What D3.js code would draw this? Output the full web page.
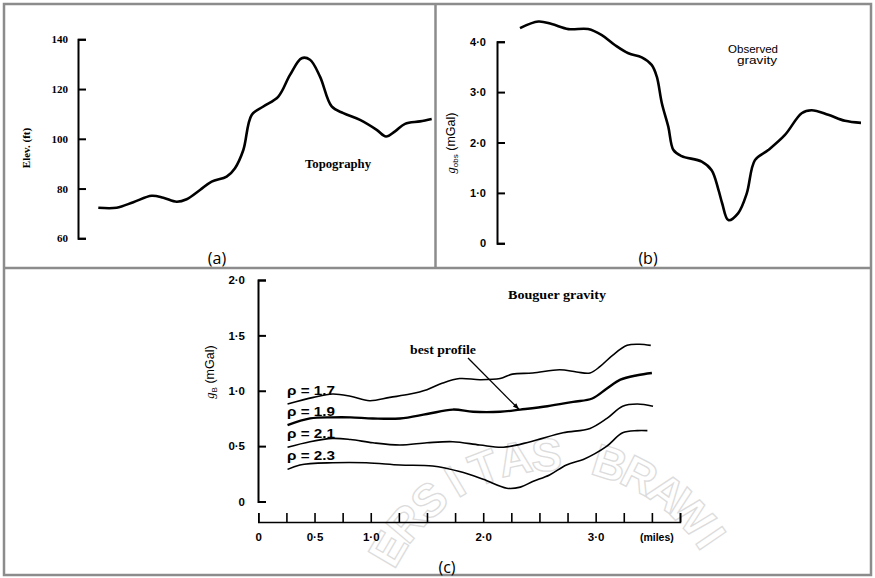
<!DOCTYPE html>
<html><head><meta charset="utf-8">
<script src="https://cdn.jsdelivr.net/npm/d3@7/dist/d3.min.js"></script>
<style>body{margin:0;background:#fff} svg{display:block}</style>
</head><body>
<svg id="chart" width="875" height="578"></svg>
<script>
// ---------- DATA ----------
// (a) Topography: position along profile (% of length) and elevation (ft)
const topoDist = [0,5.5,10.5,16,19.5,23.5,26.5,30.5,34,38.5,41,43.5,46,49.5,54,57.5,61,63.5,66.5,70,73.5,78.5,83.5,86.3,89,92,96.5,100];
const topoElev = [72.3,72.3,74.5,77.1,76.3,74.7,75.7,79.4,82.8,84.8,88.2,95.5,109.6,113,117,125.7,132.4,131.8,125,113,110.3,107.6,103.6,100.9,103,106,107,108];
// (b) Observed gravity: position (% of length) and g_obs (mGal)
const gravDist = [0,5.4,9.3,14.2,20,24,27.9,31.8,35.7,38.6,40.1,41.6,43.5,45,47.4,53.3,56.2,58.2,59.3,61.1,64,66.5,68.9,72.8,77.7,82.6,85.5,90.4,95.3,100];
const gravObs  = [4.27,4.4,4.35,4.25,4.25,4.13,3.93,3.77,3.69,3.54,3.31,2.78,2.31,1.85,1.73,1.62,1.45,1.06,0.79,0.46,0.6,0.99,1.65,1.85,2.15,2.58,2.64,2.55,2.43,2.39];
// (c) Bouguer gravity (mGal) vs distance (miles) for four densities
const miles17 = [0.26,0.49,0.66,0.82,0.99,1.17,1.35,1.5,1.64,1.79,1.97,2.15,2.26,2.44,2.68,2.83,2.95,3.04,3.15,3.28,3.39,3.49];
const bouguer17 = [0.88,0.94,0.97,0.95,0.91,0.94,0.97,1.01,1.07,1.11,1.1,1.11,1.15,1.16,1.19,1.17,1.16,1.22,1.32,1.41,1.42,1.41];
const miles19 = [0.26,0.46,0.66,0.82,1.02,1.26,1.5,1.73,1.91,2.15,2.33,2.57,2.8,2.97,3.1,3.22,3.37,3.5];
const bouguer19 = [0.69,0.75,0.76,0.76,0.75,0.75,0.79,0.83,0.81,0.81,0.83,0.86,0.9,0.93,1.02,1.1,1.14,1.16];
const miles21 = [0.26,0.46,0.66,0.82,1.02,1.26,1.5,1.73,1.97,2.18,2.42,2.71,2.95,3.1,3.24,3.37,3.51];
const bouguer21 = [0.49,0.54,0.57,0.56,0.53,0.51,0.53,0.54,0.51,0.49,0.54,0.62,0.66,0.75,0.86,0.88,0.86];
const miles23 = [0.26,0.37,0.66,0.96,1.26,1.55,1.79,2,2.21,2.33,2.44,2.59,2.74,2.89,2.99,3.1,3.24,3.37,3.46];
const bouguer23 = [0.29,0.33,0.35,0.35,0.33,0.32,0.27,0.2,0.12,0.13,0.18,0.24,0.33,0.38,0.43,0.5,0.62,0.64,0.64];
const densityLabels = ["ρ = 1.7","ρ = 1.9","ρ = 2.1","ρ = 2.3"];
// ticks
const elevTicks = [60,80,100,120,140];
const gobsTicks = [0,1,2,3,4];
const gbTicks = [0,0.5,1,1.5,2];
const mileTicks = [0,0.25,0.5,0.75,1,1.25,1.5,1.75,2,2.25,2.5,2.75,3,3.25,3.5,3.75];
const mileTickLabels = ["0","","0·5","","1·0","","","","2·0","","","","3·0","","",""];
const panelLabels = ["(a)","(b)","(c)"];
const watermarkText = "UNIVERSITAS BRAWIJAYA";

// ---------- DRAW ----------
const svg = d3.select("#chart");
const serif = "'Liberation Serif', 'DejaVu Serif', serif";
const sans = "'Liberation Sans', 'DejaVu Sans', sans-serif";
const dotFmt = d => d === 0 ? "0" : d.toFixed(1).replace(".", "·");

// watermark (faint, letters along an arc)
const wm = svg.append("g");
const wcx = 553, wcy = 646, wR = 192, wStep = 9.6;
watermarkText.split("").forEach((ch,i)=>{
  const th = (i - 10.2) * wStep;
  const rad = th * Math.PI / 180;
  const x = wcx + wR * Math.sin(rad), y = wcy - wR * Math.cos(rad);
  if (y > 556 || ch === " ") return;
  wm.append("text").attr("transform",`translate(${x.toFixed(1)},${y.toFixed(1)}) rotate(${th})`)
    .attr("text-anchor","middle").attr("dy","0.36em")
    .attr("font-family",sans).attr("font-weight","bold").attr("font-size",46)
    .attr("fill","none").attr("stroke","#dcdcdc").attr("stroke-width",1.3).text(ch);
});

// frame
const frameCol = "#8c8c8c";
svg.append("rect").attr("x",4).attr("y",4).attr("width",867).attr("height",571)
  .attr("fill","none").attr("stroke",frameCol).attr("stroke-width",2.5);
svg.append("line").attr("x1",435.5).attr("x2",435.5).attr("y1",4).attr("y2",268)
  .attr("stroke",frameCol).attr("stroke-width",2.5);
svg.append("line").attr("x1",4).attr("x2",871).attr("y1",268).attr("y2",268)
  .attr("stroke",frameCol).attr("stroke-width",2.5);

function styleAxis(g, fam, size, weight, w) {
  g.select(".domain").attr("stroke","#000").attr("stroke-width",w);
  g.selectAll(".tick line").attr("stroke","#000").attr("stroke-width",w);
  g.selectAll(".tick text").attr("font-family",fam).attr("font-size",size)
    .attr("font-weight",weight).attr("fill","#000");
}
const smooth = d3.curveCatmullRom.alpha(0.5);

// ----- (a) -----
const xA = d3.scaleLinear().domain([0,100]).range([98.3,431.7]);
const yA = d3.scaleLinear().domain([60,140]).range([238.3,39.3]);
const gA = svg.append("g").attr("transform","translate(78,0)")
  .call(d3.axisLeft(yA).tickValues(elevTicks).tickSize(-8).tickSizeOuter(-8).tickPadding(10).tickFormat(d3.format("d")));
styleAxis(gA, serif, 11, "bold", 2);
svg.append("path").datum(topoDist.map((d,i)=>[d,topoElev[i]]))
  .attr("d", d3.line().x(d=>xA(d[0])).y(d=>yA(d[1])).curve(smooth))
  .attr("fill","none").attr("stroke","#000").attr("stroke-width",2.6).attr("stroke-linejoin","round");
svg.append("text").attr("transform","translate(30,148) rotate(-90)").attr("text-anchor","middle")
  .attr("font-family",serif).attr("font-size",11).attr("font-weight","bold").text("Elev. (ft)");
svg.append("text").attr("x",305).attr("y",168).attr("font-family",serif).attr("font-size",12)
  .attr("font-weight","bold").attr("textLength",66).attr("lengthAdjust","spacingAndGlyphs").text("Topography");

// ----- (b) -----
const xB = d3.scaleLinear().domain([0,100]).range([520,861]);
const yB = d3.scaleLinear().domain([0,4]).range([243.3,41.7]);
const gB = svg.append("g").attr("transform","translate(497,0)")
  .call(d3.axisLeft(yB).tickValues(gobsTicks).tickSize(-8).tickSizeOuter(-8).tickPadding(11).tickFormat(dotFmt));
styleAxis(gB, sans, 11, "bold", 2);
svg.append("path").datum(gravDist.map((d,i)=>[d,gravObs[i]]))
  .attr("d", d3.line().x(d=>xB(d[0])).y(d=>yB(d[1])).curve(smooth))
  .attr("fill","none").attr("stroke","#000").attr("stroke-width",2.6).attr("stroke-linejoin","round");
const tB = svg.append("text").attr("transform","translate(455,143) rotate(-90)").attr("text-anchor","middle")
  .attr("font-family",sans).attr("font-size",12.5);
tB.append("tspan").attr("font-style","italic").attr("font-family",serif).text("g");
tB.append("tspan").attr("font-size",8).attr("dy",3).text("obs");
tB.append("tspan").attr("dy",-3).text("  (mGal)");
svg.append("text").attr("x",753).attr("y",53).attr("text-anchor","middle").attr("font-family",sans)
  .attr("font-size",11).attr("textLength",50).attr("lengthAdjust","spacingAndGlyphs").text("Observed");
svg.append("text").attr("x",757).attr("y",64).attr("text-anchor","middle").attr("font-family",sans)
  .attr("font-size",11).attr("textLength",40).attr("lengthAdjust","spacingAndGlyphs").text("gravity");

// ----- (c) -----
const xC = d3.scaleLinear().domain([0,3.75]).range([258.3,680]);
const yC = d3.scaleLinear().domain([0,2]).range([501.5,280]);
const gCy = svg.append("g").attr("transform","translate(258,0)")
  .call(d3.axisLeft(yC).tickValues(gbTicks).tickSize(-8).tickSizeOuter(-8).tickPadding(13).tickFormat(dotFmt));
styleAxis(gCy, sans, 11.5, "bold", 2);
const gCx = svg.append("g").attr("transform","translate(0,522)")
  .call(d3.axisBottom(xC).tickValues(mileTicks).tickSize(-9).tickSizeOuter(-9).tickPadding(11)
    .tickFormat((d,i)=>mileTickLabels[i]));
styleAxis(gCx, sans, 11.5, "bold", 1.6);
svg.append("text").attr("x",xC(3.5)+5).attr("y",541).attr("text-anchor","middle").attr("font-family",sans)
  .attr("font-size",10.5).attr("font-weight","bold").text("(miles)");

const series = [[miles17,bouguer17,1.6],[miles19,bouguer19,2.4],[miles21,bouguer21,1.6],[miles23,bouguer23,1.6]];
const lineC = d3.line().x(d=>xC(d[0])).y(d=>yC(d[1])).curve(smooth);
series.forEach((s,k)=>{
  const pts = s[0].map((m,i)=>[m,s[1][i]]);
  svg.append("path").datum(pts).attr("d",lineC).attr("fill","none").attr("stroke","#000")
    .attr("stroke-width",s[2]).attr("stroke-linejoin","round");
  svg.append("text").attr("x",xC(s[0][0])-0.5).attr("y",yC(s[1][0])-9)
    .attr("font-family",sans).attr("font-size",12.5).attr("font-weight","600")
    .attr("textLength",48).attr("lengthAdjust","spacingAndGlyphs").text(densityLabels[k]);
});
const tC = svg.append("text").attr("transform","translate(214,372) rotate(-90)").attr("text-anchor","middle")
  .attr("font-family",sans).attr("font-size",12.5);
tC.append("tspan").attr("font-style","italic").attr("font-family",serif).text("g");
tC.append("tspan").attr("font-size",8).attr("dy",3).text("B");
tC.append("tspan").attr("dy",-3).text("  (mGal)");
svg.append("text").attr("x",508).attr("y",299).attr("font-family",serif).attr("font-size",12)
  .attr("font-weight","bold").attr("textLength",98).attr("lengthAdjust","spacingAndGlyphs").text("Bouguer gravity");
svg.append("text").attr("x",410).attr("y",354).attr("font-family",serif).attr("font-size",12)
  .attr("font-weight","bold").attr("textLength",66).attr("lengthAdjust","spacingAndGlyphs").text("best profile");
// arrow to best profile (rho = 1.9)
const ax = xC(2.32), ay = yC(0.83);
const sx = 468, sy = 358;
const ang = Math.atan2(ay-sy, ax-sx);
svg.append("line").attr("x1",sx).attr("y1",sy).attr("x2",ax).attr("y2",ay)
  .attr("stroke","#000").attr("stroke-width",1.3);
const hl = 7, hw = 0.35;
svg.append("path").attr("d",`M${ax},${ay} L${ax-hl*Math.cos(ang-hw)},${ay-hl*Math.sin(ang-hw)} L${ax-hl*Math.cos(ang+hw)},${ay-hl*Math.sin(ang+hw)} Z`)
  .attr("fill","#000");

// panel labels
const lab = "'Open Sans', 'Lato', sans-serif";
[[217,264],[648,264],[447,573]].forEach((p,i)=>{
  svg.append("text").attr("x",p[0]).attr("y",p[1]).attr("text-anchor","middle").attr("font-family",lab)
    .attr("font-size",16).text(panelLabels[i]);
});
</script>
</body></html>
